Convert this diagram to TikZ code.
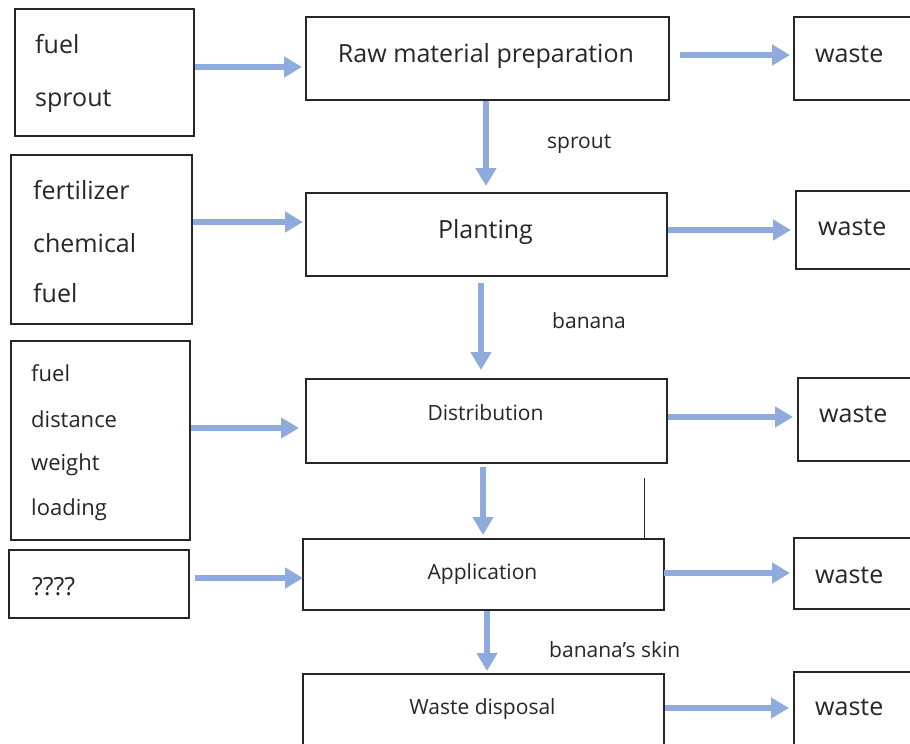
\documentclass[tikz,border=0pt]{standalone}
\usepackage{fontspec}
\setmainfont{Open Sans}
\usetikzlibrary{arrows.meta,calc}
\definecolor{arrblue}{HTML}{8FAADC}
\definecolor{ink}{HTML}{262626}
\begin{document}
\begin{tikzpicture}[x=1pt,y=-1pt,
  box/.style={draw=ink, line width=1.6pt, anchor=north west, inner sep=0pt},
  big/.style={inner sep=0pt, text=ink, font=\fontsize{25}{30}\selectfont},
  mid/.style={inner sep=0pt, text=ink, font=\fontsize{22}{27}\selectfont},
  small/.style={inner sep=0pt, text=ink, font=\fontsize{21}{26}\selectfont},
  arr/.style={draw=arrblue, line width=6pt, -{Triangle[length=18pt,width=20pt]}}]
\useasboundingbox (0,0) rectangle (910,744);
\clip (0,0) rectangle (910,744);
\fill[white] (0,0) rectangle (910,744);
% left boxes
\node[box, minimum width=179pt, minimum height=127pt] (L1) at (14,8) {};
\node[box, minimum width=181pt, minimum height=169pt] (L2) at (10,154) {};
\node[box, minimum width=179pt, minimum height=199pt] (L3) at (10,340) {};
\node[box, minimum width=180pt, minimum height=68pt] (L4) at (8,549) {};
% middle boxes
\node[box, minimum width=363pt, minimum height=83pt] (M1) at (305,16) {};
\node[box, minimum width=361pt, minimum height=83pt] (M2) at (305,192) {};
\node[box, minimum width=361pt, minimum height=84pt] (M3) at (305,378) {};
\node[box, minimum width=361pt, minimum height=71pt] (M4) at (302,538) {};
\node[box, minimum width=361pt, minimum height=90pt] (M5) at (302,673) {};
% right boxes
\node[box, minimum width=150pt, minimum height=83pt] (R1) at (793,16) {};
\node[box, minimum width=150pt, minimum height=78pt] (R2) at (795,190) {};
\node[box, minimum width=150pt, minimum height=83pt] (R3) at (797,377) {};
\node[box, minimum width=150pt, minimum height=71pt] (R4) at (793,537) {};
\node[box, minimum width=150pt, minimum height=90pt] (R5) at (793,671) {};
% left texts
\node[big, anchor=base west] (L1a) at (35,53) {fuel};
\node[big, anchor=base west] (L1b) at (35,106) {sprout};
\node[big, anchor=base west] (L2a) at (33,199) {fertilizer};
\node[big, anchor=base west] (L2b) at (33,252) {chemical};
\node[big, anchor=base west] (L2c) at (33,302) {fuel};
\node[mid, anchor=base west] (L3a) at (31,381) {fuel};
\node[mid, anchor=base west] (L3b) at (31,427) {distance};
\node[mid, anchor=base west] (L3c) at (31,470) {weight};
\node[mid, anchor=base west] (L3d) at (31,515) {loading};
\node[big, anchor=base west] (L4a) at (32,595) {????};
% middle texts
\node[big, anchor=base] (M1t) at (486,62) {Raw material preparation};
\node[big, anchor=base] (M2t) at (485.5,238) {Planting};
\node[small, anchor=base] (M3t) at (485.5,420) {Distribution};
\node[small, anchor=base] (M4t) at (482.5,579) {Application};
\node[small, anchor=base] (M5t) at (482.5,714) {Waste disposal};
% right texts
\node[big, anchor=base west] (R1t) at (815,62) {waste};
\node[big, anchor=base west] (R2t) at (818,235) {waste};
\node[big, anchor=base west] (R3t) at (819,422) {waste};
\node[big, anchor=base west] (R4t) at (815,583) {waste};
\node[big, anchor=base west] (R5t) at (815,715) {waste};
% flow labels
\node[small, anchor=base west] (s1) at (547,148) {sprout};
\node[small, anchor=base west] (s2) at (552,328) {banana};
\node[small, anchor=base west] (s3) at (549,657) {banana’s skin};
% left to middle arrows
\draw[arr] (L1.east |- 0,67) -- ([xshift=-3pt]M1.west |- 0,67);
\draw[arr] (L2.east |- 0,222) -- ([xshift=-2pt]M2.west |- 0,222);
\draw[arr] (L3.east |- 0,428) -- ([xshift=-6pt]M3.west |- 0,428);
\draw[arr] ([xshift=5pt]L4.east |- 0,578) -- ([xshift=1pt]M4.west |- 0,578);
% middle to right arrows
\draw[arr] ([xshift=10pt]M1.east |- 0,55) -- ([xshift=-3pt]R1.west |- 0,55);
\draw[arr] (M2.east |- 0,230) -- ([xshift=-4pt]R2.west |- 0,230);
\draw[arr] (M3.east |- 0,417) -- ([xshift=-4pt]R3.west |- 0,417);
\draw[arr] ([xshift=-1pt]M4.east |- 0,573) -- ([xshift=-3pt]R4.west |- 0,573);
\draw[arr] (M5.east |- 0,708) -- ([xshift=-4pt]R5.west |- 0,708);
% vertical arrows
\draw[arr] (M1.south -| 486,0) -- ([yshift=6pt]M2.north -| 486,0);
\draw[arr] ([yshift=-6pt]M2.south -| 481,0) -- ([yshift=8pt]M3.north -| 481,0);
\draw[arr] ([yshift=-3pt]M3.south -| 483,0) -- ([yshift=3pt]M4.north -| 483,0);
\draw[arr] (M4.south -| 487,0) -- ([yshift=2pt]M5.north -| 487,0);
% thin line
\coordinate (tl) at (644,478);
\draw[ink, line width=1pt] (tl) -- (tl |- M4.north);
\end{tikzpicture}
\end{document}
